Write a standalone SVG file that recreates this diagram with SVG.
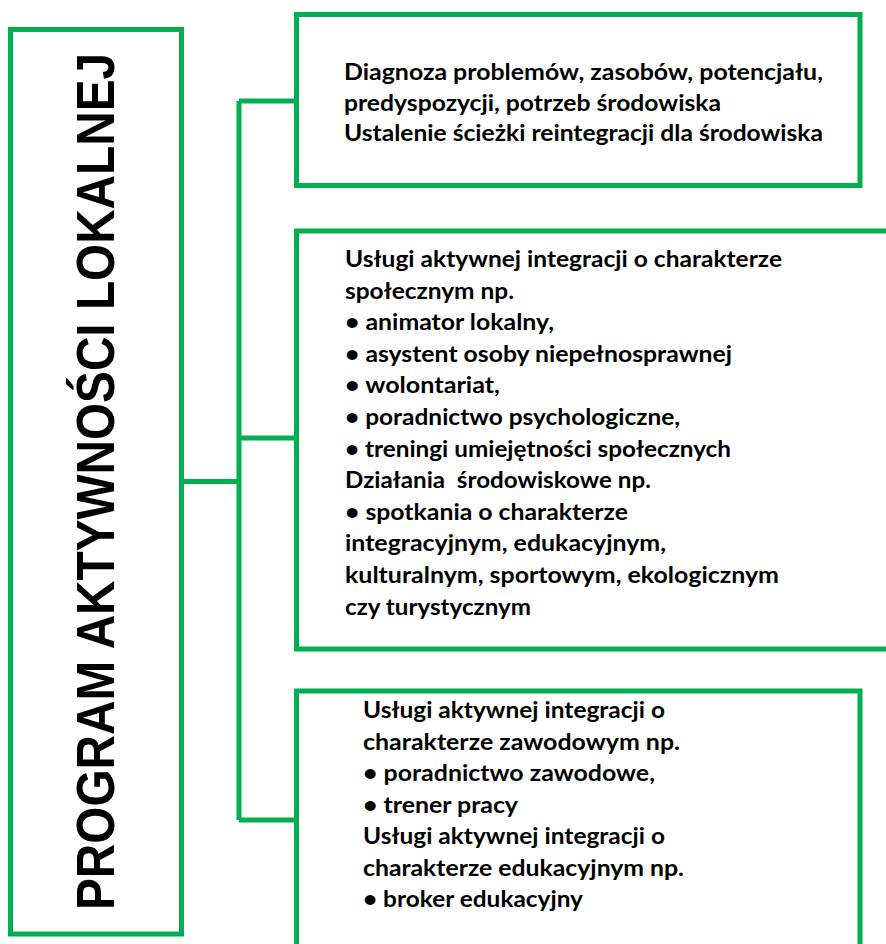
<svg xmlns="http://www.w3.org/2000/svg" width="886" height="944" viewBox="0 0 886 944">
  <style>
    .box { fill: #FFFFFF; stroke: #00B050; stroke-width: 5; stroke-linejoin: miter; }
    .conn { fill: none; stroke: #00B050; stroke-width: 5; stroke-linecap: butt; stroke-linejoin: miter; }
    .t { font-family: Lato, "Open Sans", "Liberation Sans", sans-serif; font-weight: 700; font-size: 22px; fill: #000000; }
    .title { font-family: "Liberation Sans", Arial, sans-serif; font-weight: 700; font-size: 53px; fill: #000000; }
  </style>
  <rect width="886" height="944" fill="#FFFFFF"/>

  <g id="connectors">
    <path class="conn" d="M182,481.5 H239"/>
    <path class="conn" d="M239,101 V820"/>
    <path class="conn" d="M239,101 H296.5"/>
    <path class="conn" d="M239,438 H296.5"/>
    <path class="conn" d="M239,820 H296.5"/>
  </g>

  <g id="node-program">
    <rect class="box" x="10.5" y="29.5" width="171" height="904.5"/>
    <text class="title" transform="translate(114,910) rotate(-90)" textLength="857" lengthAdjust="spacingAndGlyphs">PROGRAM AKTYWNOŚCI LOKALNEJ</text>
  </g>

  <g id="node-diagnoza">
    <rect class="box" x="296.5" y="14.5" width="563.5" height="171"/>
    <text class="t" x="344" y="80" textLength="479" lengthAdjust="spacingAndGlyphs">Diagnoza problemów, zasobów, potencjału,</text>
    <text class="t" x="344" y="110.5" textLength="377" lengthAdjust="spacingAndGlyphs">predyspozycji, potrzeb środowiska</text>
    <text class="t" x="344" y="141" textLength="479" lengthAdjust="spacingAndGlyphs">Ustalenie ścieżki reintegracji dla środowiska</text>
  </g>

  <g id="node-spoleczne">
    <rect class="box" x="296.5" y="231" width="620" height="418"/>
    <text class="t" x="345" y="267" textLength="437" lengthAdjust="spacingAndGlyphs">Usługi aktywnej integracji o charakterze</text>
    <text class="t" x="345" y="298.6" textLength="169" lengthAdjust="spacingAndGlyphs">społecznym np.</text>
    <text class="t" x="345" y="330.2" textLength="209" lengthAdjust="spacingAndGlyphs">• animator lokalny,</text>
    <text class="t" x="345" y="361.8" textLength="387" lengthAdjust="spacingAndGlyphs">• asystent osoby niepełnosprawnej</text>
    <text class="t" x="345" y="393.4" textLength="155" lengthAdjust="spacingAndGlyphs">• wolontariat,</text>
    <text class="t" x="345" y="425" textLength="335" lengthAdjust="spacingAndGlyphs">• poradnictwo psychologiczne,</text>
    <text class="t" x="345" y="456.6" textLength="386" lengthAdjust="spacingAndGlyphs">• treningi umiejętności społecznych</text>
    <text class="t" x="345" y="488.2" textLength="306" lengthAdjust="spacingAndGlyphs" xml:space="preserve">Działania  środowiskowe np.</text>
    <text class="t" x="345" y="519.8" textLength="283" lengthAdjust="spacingAndGlyphs">• spotkania o charakterze</text>
    <text class="t" x="345" y="551.4" textLength="321" lengthAdjust="spacingAndGlyphs">integracyjnym, edukacyjnym,</text>
    <text class="t" x="345" y="583" textLength="434" lengthAdjust="spacingAndGlyphs">kulturalnym, sportowym, ekologicznym</text>
    <text class="t" x="345" y="614.6" textLength="186" lengthAdjust="spacingAndGlyphs">czy turystycznym</text>
  </g>

  <g id="node-zawodowe">
    <rect class="box" x="296.5" y="691" width="563.5" height="300"/>
    <text class="t" x="363" y="718" textLength="302" lengthAdjust="spacingAndGlyphs">Usługi aktywnej integracji o</text>
    <text class="t" x="363" y="749.5" textLength="317" lengthAdjust="spacingAndGlyphs">charakterze zawodowym np.</text>
    <text class="t" x="363" y="781" textLength="292" lengthAdjust="spacingAndGlyphs">• poradnictwo zawodowe,</text>
    <text class="t" x="363" y="812.5" textLength="155" lengthAdjust="spacingAndGlyphs">• trener pracy</text>
    <text class="t" x="363" y="844" textLength="302" lengthAdjust="spacingAndGlyphs">Usługi aktywnej integracji o</text>
    <text class="t" x="363" y="875.5" textLength="321" lengthAdjust="spacingAndGlyphs">charakterze edukacyjnym np.</text>
    <text class="t" x="363" y="907" textLength="220" lengthAdjust="spacingAndGlyphs">• broker edukacyjny</text>
  </g>
</svg>
